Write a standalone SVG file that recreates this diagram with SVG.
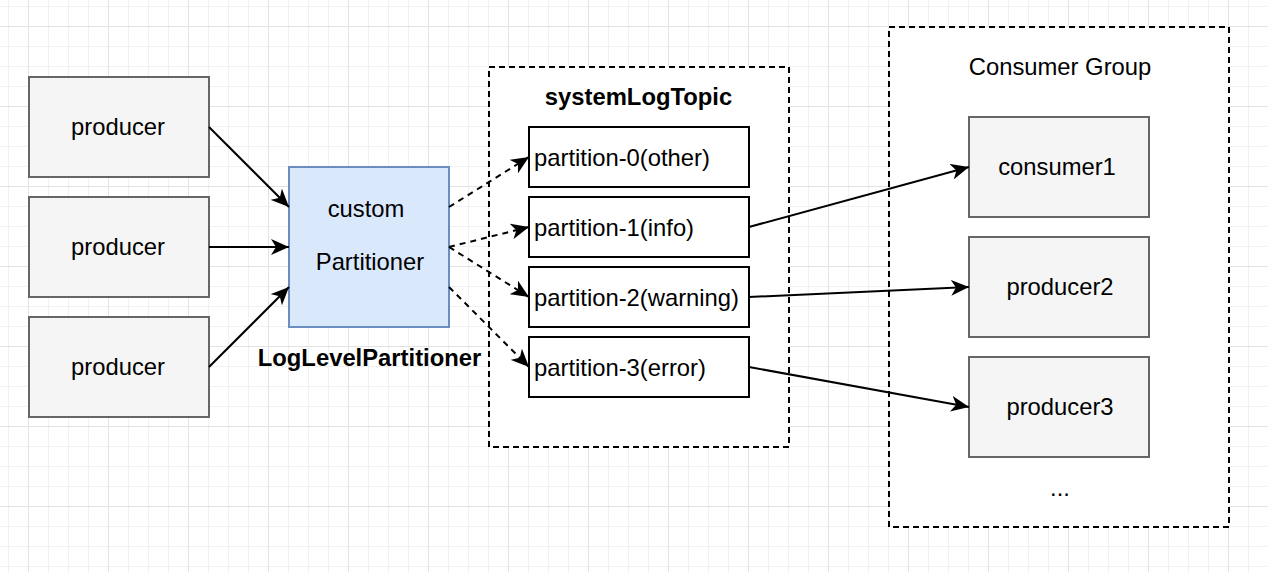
<svg xmlns="http://www.w3.org/2000/svg" width="1268" height="572" viewBox="0 0 1268 572">
<defs>
<pattern id="grid" x="28" y="26" width="80" height="80" patternUnits="userSpaceOnUse">
<rect width="80" height="80" fill="#ffffff"/>
<g fill="#f1f1f1">
<rect x="20" y="0" width="1" height="80"/><rect x="40" y="0" width="1" height="80"/><rect x="60" y="0" width="1" height="80"/>
<rect x="0" y="20" width="80" height="1"/><rect x="0" y="40" width="80" height="1"/><rect x="0" y="60" width="80" height="1"/>
</g>
<g fill="#e3e3e3">
<rect x="0" y="0" width="1" height="80"/><rect x="0" y="0" width="80" height="1"/>
</g>
</pattern>
<marker id="arr" viewBox="0 0 18 16" refX="18" refY="8" markerWidth="18" markerHeight="16" markerUnits="userSpaceOnUse" orient="auto">
<path d="M0,0 L18,8 L0,16 L5,8 Z" fill="#000"/>
</marker>
<style>
text{font-family:"Liberation Sans",Arial,Helvetica,sans-serif;font-size:23.8px;fill:#000}
.c{text-anchor:middle}
.b{font-weight:bold}
.grey{fill:#f5f5f5;stroke:#666666;stroke-width:2}
.blue{fill:#dae8fc;stroke:#6c8ebf;stroke-width:2}
.part{fill:#ffffff;stroke:#000;stroke-width:2}
.group{fill:#ffffff;stroke:#000;stroke-width:2;stroke-dasharray:6 4}
.edge{fill:none;stroke:#000;stroke-width:2;marker-end:url(#arr)}
.dash{stroke-dasharray:6 5}
</style>
</defs>
<rect width="1268" height="572" fill="url(#grid)"/>

<g id="systemLogTopic">
<rect class="group" x="489" y="67" width="300" height="380"/>
<text class="c b" x="638.5" y="105">systemLogTopic</text>
</g>
<g id="consumerGroup">
<rect class="group" x="889" y="27" width="340" height="500"/>
<text class="c" x="1060" y="75">Consumer Group</text>
<text class="c" x="1060" y="496">...</text>
</g>

<g id="producer1"><rect class="grey" x="29" y="77" width="180" height="100"/><text class="c" x="118" y="135">producer</text></g>
<g id="producer2"><rect class="grey" x="29" y="197" width="180" height="100"/><text class="c" x="118" y="255">producer</text></g>
<g id="producer3"><rect class="grey" x="29" y="317" width="180" height="100"/><text class="c" x="118" y="375">producer</text></g>

<g id="partitioner">
<rect class="blue" x="289" y="167" width="160" height="160"/>
<text class="c" x="366" y="217">custom</text>
<text class="c" x="370" y="270">Partitioner</text>
<text class="c b" x="369.5" y="366">LogLevelPartitioner</text>
</g>

<g id="partition0"><rect class="part" x="529" y="127" width="220" height="60"/><text x="534" y="165.5">partition-0(other)</text></g>
<g id="partition1"><rect class="part" x="529" y="197" width="220" height="60"/><text x="534" y="235.5">partition-1(info)</text></g>
<g id="partition2"><rect class="part" x="529" y="267" width="220" height="60"/><text x="534" y="305.5">partition-2(warning)</text></g>
<g id="partition3"><rect class="part" x="529" y="337" width="220" height="60"/><text x="534" y="375.5">partition-3(error)</text></g>

<g id="consumer1"><rect class="grey" x="969" y="117" width="180" height="100"/><text class="c" x="1057" y="175">consumer1</text></g>
<g id="consumer2"><rect class="grey" x="969" y="237" width="180" height="100"/><text class="c" x="1060" y="295">producer2</text></g>
<g id="consumer3"><rect class="grey" x="969" y="357" width="180" height="100"/><text class="c" x="1060" y="415">producer3</text></g>

<g id="connectors">
<path class="edge" d="M209,127 L289,207"/>
<path class="edge" d="M209,247 L289,247"/>
<path class="edge" d="M209,367 L289,287"/>
<path class="edge dash" d="M449,207 L529,157"/>
<path class="edge dash" d="M449,247 L529,227"/>
<path class="edge dash" d="M449,247 L529,297"/>
<path class="edge dash" d="M449,287 L529,367"/>
<path class="edge" d="M749,227 L969,167"/>
<path class="edge" d="M749,297 L969,287"/>
<path class="edge" d="M749,367 L969,407"/>
</g>
</svg>
